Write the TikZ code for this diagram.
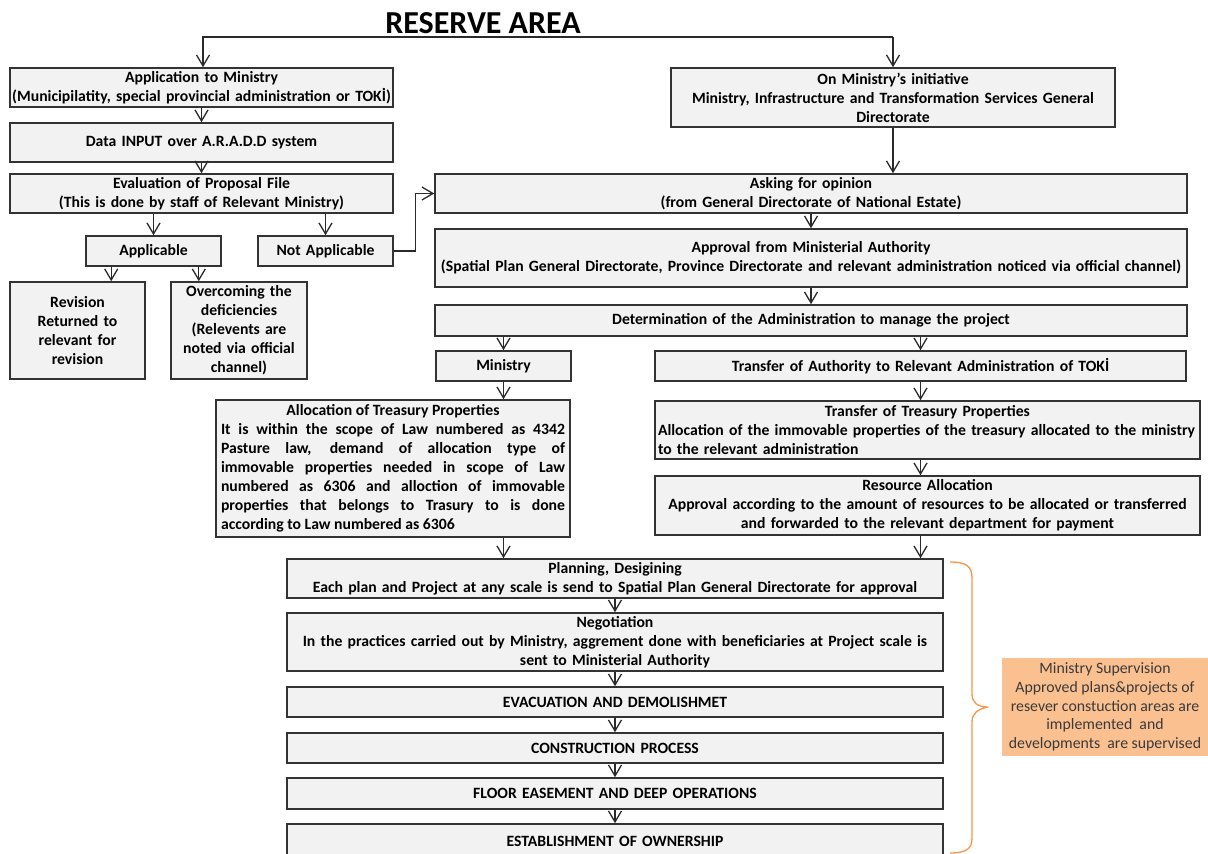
\documentclass[tikz,border=0pt]{standalone}
\usepackage{fontspec}
\setmainfont{Carlito}
\usetikzlibrary{arrows.meta,calc}
\definecolor{boxfill}{HTML}{F2F2F2}
\definecolor{boxline}{HTML}{333333}
\definecolor{arrowcol}{HTML}{2A2A2A}
\definecolor{supfill}{HTML}{FAC090}
\definecolor{braceorange}{HTML}{F79646}
\definecolor{suptext}{HTML}{3A3A3A}
\tikzset{
  box/.style={draw=boxline, fill=boxfill, line width=1.6pt,
    font=\bfseries\fontsize{15.7}{19}\selectfont, align=center,
    inner xsep=4pt, inner ysep=0pt},
  arr/.style={draw=arrowcol, line width=1.3pt,
    -{Straight Barb[length=11pt, width=13pt, line width=1.3pt]}},
  supbox/.style={fill=supfill, text=suptext, align=center,
    font=\fontsize{15.8}{18.8}\selectfont, inner sep=0pt}
}
\begin{document}
\begin{tikzpicture}[x=1pt, y=1pt]
\useasboundingbox (0,0) rectangle (1208,-854);
\fill[white] (0,0) rectangle (1208,-854);

% title
\node[font=\bfseries\fontsize{32}{36}\selectfont, anchor=base] (title) at (483,-33) {RESERVE AREA};

% left branch: application
\node[box, text width=382pt, inner xsep=0.5pt, minimum height=39pt] (app) at (201.5,-87.5)
  {Application to Ministry\\(Municipilatity, special provincial administration or TOKİ)};
\node[box, text width=375pt, minimum height=39pt] (data) at (201.5,-142.5)
  {Data INPUT over A.R.A.D.D system};
\node[box, text width=375pt, minimum height=39pt] (eval) at (201.5,-193.5)
  {Evaluation of Proposal File\\(This is done by staff of Relevant Ministry)};
\node[box, text width=127pt, minimum height=30pt] (appl) at (153.5,-251) {Applicable};
\node[box, text width=127pt, minimum height=30pt] (notappl) at (325.5,-251) {Not Applicable};
\node[box, text width=127pt, minimum height=97pt] (rev) at (77.5,-330.5)
  {Revision\\Returned to\\relevant for\\revision};
\node[box, text width=128pt, minimum height=97pt] (over) at (239,-330.5)
  {Overcoming the\\deficiencies\\(Relevents are\\noted via official\\channel)};

% right branch: ministry initiative
\node[box, text width=436pt, minimum height=59pt] (init) at (893,-97.5)
  {On Ministry’s initiative\\Ministry, Infrastructure and Transformation Services General\\Directorate};
\node[box, text width=744pt, minimum height=39pt] (ask) at (811,-193.5)
  {Asking for opinion\\(from General Directorate of National Estate)};
\node[box, text width=748pt, inner xsep=2pt, minimum height=58pt] (approve) at (811,-258)
  {Approval from Ministerial Authority\\(Spatial Plan General Directorate, Province Directorate and relevant administration noticed via official channel)};
\node[box, text width=744pt, minimum height=31pt] (determ) at (811,-320.5)
  {Determination of the Administration to manage the project};
\node[box, text width=127pt, minimum height=30pt] (ministry) at (503.5,-366) {Ministry};
\node[box, text width=523pt, minimum height=30pt] (authority) at (920.5,-366)
  {Transfer of Authority to Relevant Administration of TOKİ};
\node[box, text width=344pt, inner xsep=5pt, minimum height=137pt, align=justify] (alloc) at (393,-468.5)
  {\makebox[344pt][c]{Allocation of Treasury Properties}\par
   It is within the scope of Law numbered as 4342\linebreak
   Pasture law, demand of allocation type of\linebreak
   immovable properties needed in scope of Law\linebreak
   numbered as 6306 and alloction of immovable\linebreak
   properties that belongs to Trasury to is done\linebreak
   according to Law numbered as 6306\par};
\node[box, text width=539pt, inner xsep=3pt, minimum height=58pt, align=left] (treasury) at (927.5,-430)
  {\makebox[539pt][c]{Transfer of Treasury Properties}\\
   Allocation of the immovable properties of the treasury allocated to the ministry\\
   to the relevant administration};
\node[box, text width=537pt, minimum height=59pt] (resource) at (927.5,-505.5)
  {Resource Allocation\\Approval according to the amount of resources to be allocated or transferred\\and forwarded to the relevant department for payment};

% common process chain
\node[box, text width=648pt, minimum height=39pt] (plan) at (615,-578.5)
  {Planning, Desigining\\Each plan and Project at any scale is send to Spatial Plan General Directorate for approval};
\node[box, text width=648pt, minimum height=58pt] (nego) at (615,-642)
  {Negotiation\\In the practices carried out by Ministry, aggrement done with beneficiaries at Project scale is\\sent to Ministerial Authority};
\node[box, text width=648pt, minimum height=30pt] (evac) at (615,-702) {EVACUATION AND DEMOLISHMET};
\node[box, text width=648pt, minimum height=30pt] (constr) at (615,-748) {CONSTRUCTION PROCESS};
\node[box, text width=648pt, minimum height=31pt] (floor) at (615,-793.5) {FLOOR EASEMENT AND DEEP OPERATIONS};
\node[box, text width=648pt, minimum height=34pt] (owner) at (615,-841) {ESTABLISHMENT OF OWNERSHIP};

% supervision note with brace
\node[supbox, minimum width=206pt, minimum height=98pt] (sup) at (1105,-707)
  {Ministry Supervision\\Approved plans\&projects of\\resever constuction areas are\\implemented\ \ and\\developments\ \ are supervised};
\draw[braceorange, line width=1.3pt, line join=round]
  (950,-562) .. controls (966,-562) and (972,-566) .. (972,-578)
  -- (972,-694) .. controls (972,-703) and (978,-707) .. (sup.west -| 988,0)
  .. controls (978,-709) and (972,-713) .. (972,-722)
  -- (972,-838) .. controls (972,-849) and (966,-853) .. (950,-853);

% connectors
\coordinate (topL) at (203,-37);
\coordinate (topR) at (893,-37);
\draw[arr] (topR) -- (topL) -- (topL |- app.north);
\draw[arr] (topL -| init.north) -- (init.north);
\draw[arr] (app.south) -- (data.north);
\draw[arr] (data.south) -- (eval.north);
\draw[arr] (eval.south -| appl.north) -- (appl.north);
\draw[arr] (eval.south -| notappl.north) -- (notappl.north);
\draw[arr] ([xshift=26pt]appl.south west) -- ([xshift=26pt]appl.south west |- rev.north);
\draw[arr] ([xshift=-23pt]appl.south east) -- ([xshift=-23pt]appl.south east |- over.north);
\draw[arr] (notappl.east) -- ++(22,0) |- (ask.west);
\draw[arr] (init.south) -- (init.south |- ask.north);
\draw[arr] (ask.south) -- (approve.north);
\draw[arr] (approve.south) -- (determ.north);
\draw[arr] (determ.south -| ministry.north) -- (ministry.north);
\draw[arr] (determ.south -| authority.north) -- (authority.north);
\draw[arr] (ministry.south) -- (ministry.south |- alloc.north);
\draw[arr] (ministry.south |- alloc.south) -- (ministry.south |- plan.north);
\draw[arr] (authority.south) -- (authority.south |- treasury.north);
\draw[arr] (authority.south |- treasury.south) -- (authority.south |- resource.north);
\draw[arr] (authority.south |- resource.south) -- (authority.south |- plan.north);
\draw[arr] (plan.south) -- (nego.north);
\draw[arr] (nego.south) -- (evac.north);
\draw[arr] (evac.south) -- (constr.north);
\draw[arr] (constr.south) -- (floor.north);
\draw[arr] (floor.south) -- (owner.north);
\end{tikzpicture}
\end{document}
